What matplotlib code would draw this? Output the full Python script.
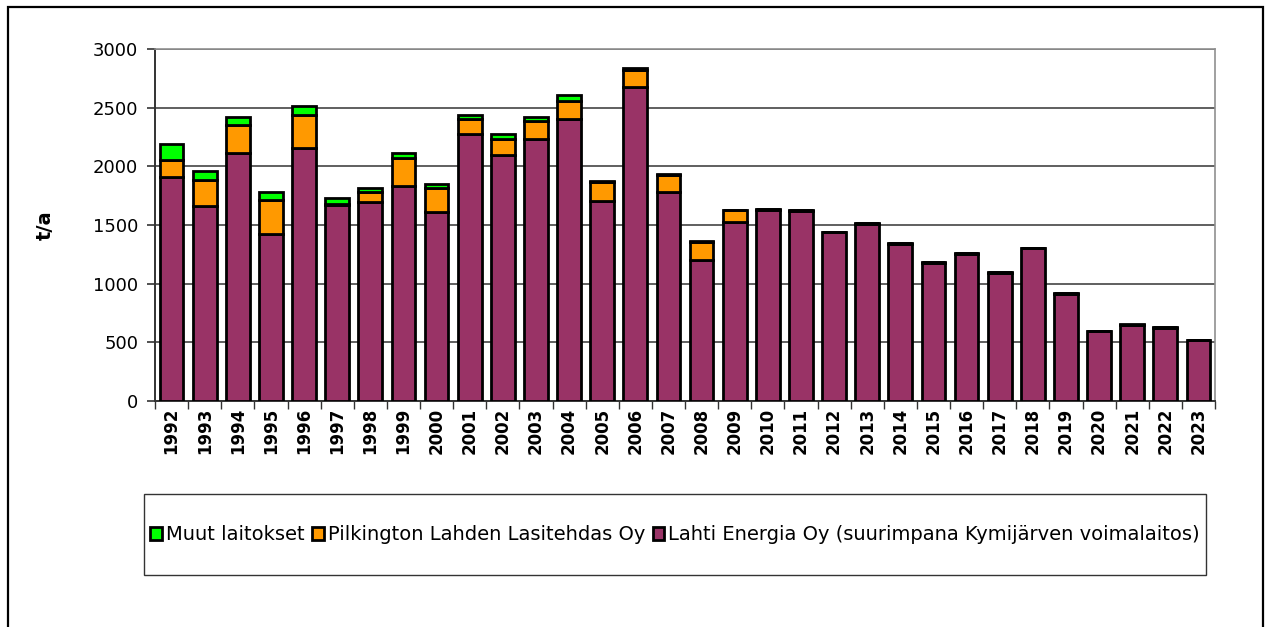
"""Stacked annual emissions (t/a) by source, 1992-2023, Excel-style."""
import matplotlib
matplotlib.use("Agg")
import matplotlib.pyplot as plt
from matplotlib.patches import Rectangle
import numpy as np

PURPLE = "#993366"
ORANGE = "#ff9900"
GREEN = "#00ff00"

years = list(range(1992, 2024))
lahti = [1905, 1665, 2110, 1420, 2155, 1670, 1695, 1830, 1608, 2273, 2097, 2230,
         2406, 1707, 2678, 1782, 1202, 1527, 1632, 1622, 1440, 1512, 1340, 1178,
         1255, 1095, 1300, 915, 595, 645, 625, 518]
pilkington = [152, 215, 242, 293, 283, 10, 82, 244, 204, 127, 139, 154,
              151, 157, 139, 147, 150, 97, 5, 3, 2, 5, 6, 3,
              5, 2, 2, 2, 2, 5, 5, 2]
muut = [133, 82, 68, 71, 77, 50, 39, 37, 40, 40, 40, 34,
        48, 8, 20, 8, 8, 5, 3, 3, 2, 3, 4, 3,
        3, 2, 2, 2, 2, 3, 3, 2]
labels = ["Muut laitokset", "Pilkington Lahden Lasitehdas Oy",
          "Lahti Energia Oy (suurimpana Kymijärven voimalaitos)"]

fig = plt.figure(figsize=(12.66, 6.27), dpi=100)
fig.patch.set_facecolor("white")
ax = fig.add_axes([155 / 1266, 1 - 401 / 627, 1060 / 1266, 352 / 627])

x = np.arange(len(years))
w = 0.72
kw = dict(width=w, edgecolor="black", linewidth=2.0, zorder=3)
b1 = ax.bar(x, lahti, color=PURPLE, **kw)
b2 = ax.bar(x, pilkington, bottom=lahti, color=ORANGE, **kw)
b3 = ax.bar(x, muut, bottom=np.add(lahti, pilkington), color=GREEN, **kw)

ax.set_xlim(-0.5, len(years) - 0.5)
ax.set_ylim(0, 3000)
ax.set_yticks(range(0, 3001, 500))
ax.tick_params(axis="y", labelsize=13, direction="out", length=6, width=1.2,
               color="#333333", pad=6)
ax.set_xticks(x)
ax.set_xticklabels([str(y) for y in years], rotation=90, fontsize=12,
                   fontweight="bold")
ax.tick_params(axis="x", length=0, pad=5)
ax.set_xticks(np.arange(-0.5, len(years), 1), minor=True)
ax.tick_params(axis="x", which="minor", direction="out", length=6, width=1.0,
               color="#333333")

ax.grid(axis="y", color="#444444", linewidth=1.2, zorder=0)
ax.set_axisbelow(True)
for s in ["top", "right"]:
    ax.spines[s].set_color("#909090")
    ax.spines[s].set_linewidth(1.2)
for s in ["left", "bottom"]:
    ax.spines[s].set_color("#333333")
    ax.spines[s].set_linewidth(1.4)

fig.text(45 / 1266, 1 - 225 / 627, "t/a", rotation=90, fontsize=14,
         fontweight="bold", ha="center", va="center")

# outer chart frame and legend box
fig.patches.append(Rectangle((8 / 1266, -0.02), 1255 / 1266, 0.02 + 1 - 7 / 627,
                             transform=fig.transFigure, fill=False,
                             edgecolor="black", linewidth=1.6))
fig.patches.append(Rectangle((144 / 1266, 1 - 575 / 627), 1062 / 1266, 81 / 627,
                             transform=fig.transFigure, fill=False,
                             edgecolor="#333333", linewidth=1.0))

leg = fig.legend([b3, b2, b1], labels, loc="center",
                 bbox_to_anchor=(675 / 1266, 1 - 535 / 627), ncol=3,
                 frameon=False, fontsize=14, handlelength=0.6,
                 handleheight=0.6, handletextpad=0.2, columnspacing=0.4)

fig.savefig("out.png", dpi=100, facecolor="white")
